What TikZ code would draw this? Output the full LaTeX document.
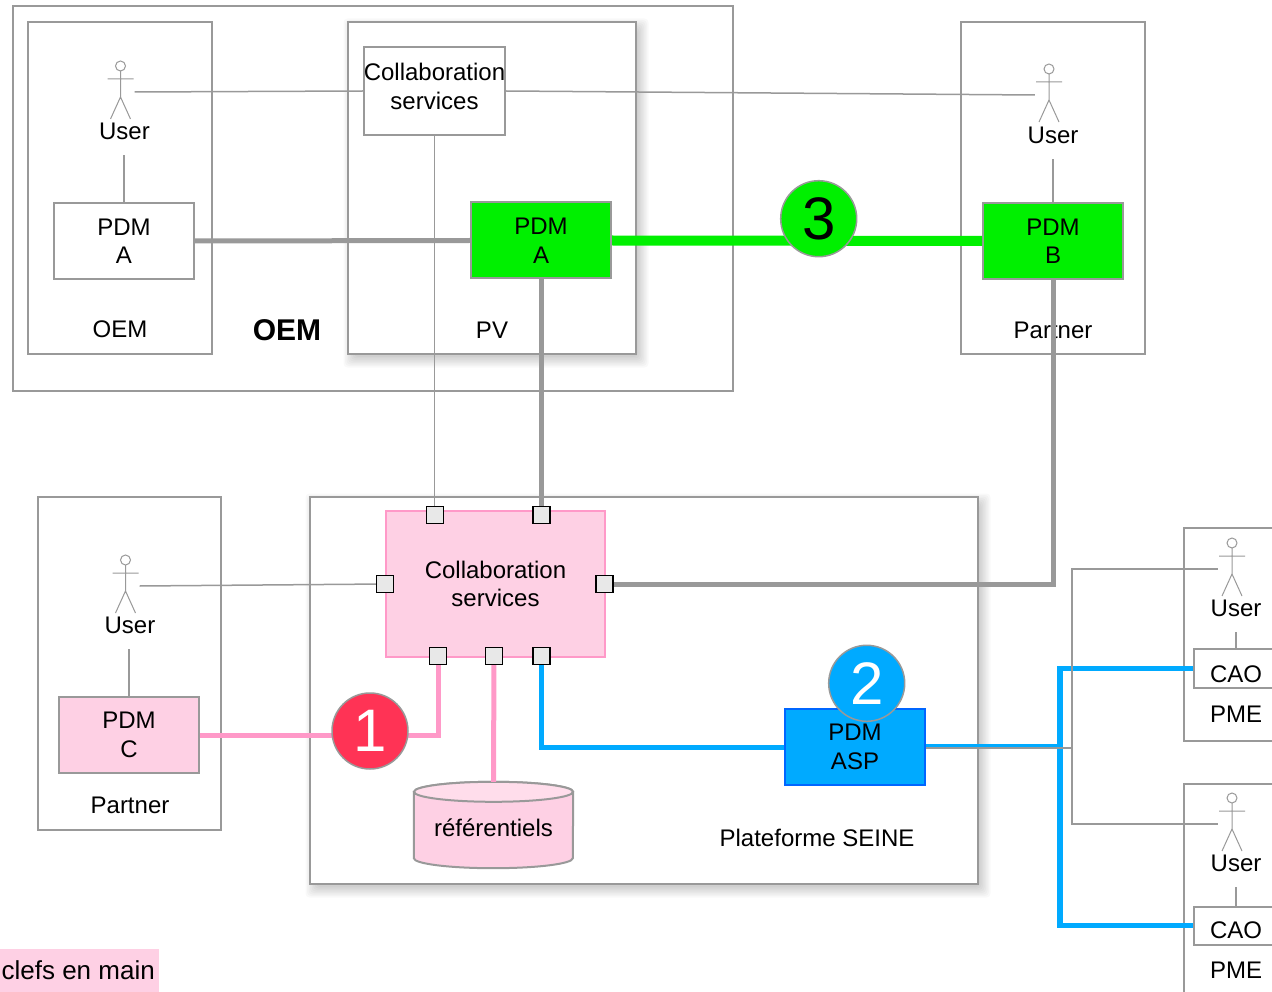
\documentclass[tikz,border=0pt]{standalone}
\usepackage{fontspec}
\setmainfont{Liberation Sans}
\usetikzlibrary{calc}
\definecolor{gline}{HTML}{999999}
\definecolor{pdmgreen}{HTML}{00F000}
\definecolor{pinkfill}{HTML}{FED0E4}
\definecolor{pinktop}{HTML}{FFDDEB}
\definecolor{pinkline}{HTML}{FF99C8}
\definecolor{redc}{HTML}{FF3355}
\definecolor{bluef}{HTML}{00AAFF}
\definecolor{blueb}{HTML}{0066FF}
\definecolor{portfill}{HTML}{E8E8E8}
\pgfdeclarelayer{bg}
\pgfsetlayers{bg,main}
\tikzset{
  txt/.style={font=\fontsize{24}{28.5}\selectfont, align=center, inner sep=0},
  fr/.style={draw=gline, line width=2, inner sep=0},
  pbox/.style={txt, draw=gline, line width=2, minimum width=140, minimum height=76},
  portsq/.style={draw=black, fill=portfill, line width=1.2, minimum size=17, inner sep=0},
  cthin/.style={draw=gline, line width=1.5},
  cthick/.style={draw=gline, line width=5},
  cgreen/.style={draw=pdmgreen, line width=10},
  cpink/.style={draw=pinkline, line width=5},
  cblue/.style={draw=bluef, line width=5},
  num/.style={circle, draw=gline, line width=1.5, minimum size=76, inner sep=0, font=\fontsize{60}{60}\selectfont},
  userlbl/.style={txt, minimum height=48},
  actorbox/.style={minimum width=28, minimum height=58, inner sep=0},
  stick/.pic={
    \draw[gline, line width=1] (0,-26) circle[radius=5pt];
    \draw[gline, line width=1] (0,-21) -- (0,5) (-13,-13) -- (13,-13) (-10,27) -- (0,5) -- (10,27);
  }
}
\begin{document}
\begin{tikzpicture}[x=1pt,y=-1pt]
\useasboundingbox (0,0) rectangle (1272,992);
\clip (0,0) rectangle (1272,992);

% frames
\node[fr, line width=1.5, minimum width=720, minimum height=385] (oemout) at (373,198.5) {};
\node[fr, minimum width=184, minimum height=332] (oembox) at (120,188) {};
\node[fr, fill=white, minimum width=288, minimum height=332] (pvbox) at (492,188) {};
\node[fr, minimum width=184, minimum height=332] (pbbox) at (1053,188) {};
\node[fr, minimum width=183, minimum height=333] (pcbox) at (129.5,663.5) {};
\node[fr, fill=white, minimum width=668, minimum height=387] (seine) at (644,690.5) {};
\node[fr, anchor=north west, minimum width=110, minimum height=213] (pme1) at (1183,527) {};
\node[fr, anchor=north west, minimum width=110, minimum height=230] (pme2) at (1183,783) {};

\begin{pgfonlayer}{bg}
  \fill[white] (0,0) rectangle (1272,992);
  \foreach \n in {pvbox,seine}{
    \foreach \r in {-3,-1.5,0,1.5,3,4.5,6,7.5}{
      \fill[black, opacity=0.022, rounded corners=4pt] ($(\n.north west)+(4-\r,5-\r)$) rectangle ($(\n.south east)+(4+\r,5+\r)$);
    }
  }
\end{pgfonlayer}

% frame labels
\node[txt] (lOEM) at (120,329) {OEM};
\node[txt, font=\bfseries\fontsize{30}{30}\selectfont] (lOEMb) at (287,330) {OEM};
\node[txt] (lPV) at (492,330) {PV};
\node[txt] (lPB) at (1053,330) {Partner};
\node[txt] (lPC) at (130,805) {Partner};
\node[txt] (lSeine) at (817,838) {Plateforme SEINE};
\node[txt] (lPME1) at (1236,714) {PME};
\node[txt] (lPME2) at (1236,970) {PME};

% boxes
\node[pbox, fill=white] (pdmA) at (124,241) {PDM\\A};
\node[pbox, fill=pdmgreen] (pdmAg) at (541,240.5) {PDM\\A};
\node[pbox, fill=pdmgreen] (pdmB) at (1053,241) {PDM\\B};
\node[pbox, fill=pinkfill] (pdmC) at (129,735) {PDM\\C};
\node[pbox, fill=bluef, draw=blueb] (asp) at (855,747) {PDM\\ASP};
\node[pbox, fill=white, minimum width=141, minimum height=88] (cs1) at (434.5,91) {};
\node[txt] (tcs1) at (434.5,86.5) {Collaboration\\services};
\node[pbox, fill=pinkfill, draw=pinkline, minimum width=219, minimum height=146] (cs2) at (495.5,584) {Collaboration\\services};
\node[pbox, fill=white, minimum width=84, minimum height=39] (cao1) at (1236,668.5) {};
\node[txt] (tcao1) at (1236,674) {CAO};
\node[pbox, fill=white, minimum width=84, minimum height=38] (cao2) at (1236,925.5) {};
\node[txt] (tcao2) at (1236,930) {CAO};

% database
\node[minimum width=159, minimum height=86, inner sep=0] (db) at (493.5,825) {};
\path[fill=pinkfill, draw=gline, line width=2] ($(db.north west)+(0,10)$) -- ($(db.south west)+(0,-10)$)
  arc[start angle=180, end angle=360, x radius=79.5pt, y radius=10pt]
  -- ($(db.north east)+(0,10)$)
  arc[start angle=0, end angle=180, x radius=79.5pt, y radius=10pt] -- cycle;
\draw[fill=pinktop, draw=gline, line width=2] ($(db.north)+(0,10)$) ellipse[x radius=79.5pt, y radius=10pt];
\node[txt] (dbt) at (493.5,828) {référentiels};

% users
\node[actorbox] (uA) at (120.5,92) {}; \pic at (uA) {stick};
\node[actorbox] (uB) at (1049,95) {}; \pic at (uB) {stick};
\node[actorbox] (uC) at (125.5,586) {}; \pic at (uC) {stick};
\node[actorbox] (uP1) at (1232,569) {}; \pic at (uP1) {stick};
\node[actorbox] (uP2) at (1232,824) {}; \pic at (uP2) {stick};
\node[userlbl] (lUA) at (124.5,131) {User};
\node[userlbl] (lUB) at (1053,135) {User};
\node[userlbl] (lUC) at (130,625) {User};
\node[userlbl] (lUP1) at (1236,608) {User};
\node[userlbl] (lUP2) at (1236,863) {User};

% port positions
\coordinate (qT1) at (435,515);
\coordinate (qT2) at (541.5,515);
\coordinate (qL) at (385,584);
\coordinate (qR) at (604.5,584);
\coordinate (qB1) at (438,656);
\coordinate (qB2) at (494,656);
\coordinate (qB3) at (541.5,656);

% connectors
\draw[cthin] (uA.east) -- (cs1.west);
\draw[cthin] (cs1.east) -- (uB.west);
\draw[cthin] (pdmA.north) -- (pdmA.north |- lUA.south);
\draw[cthin] (pdmB.north) -- (pdmB.north |- lUB.south);
\draw[cthin] (pdmC.north) -- (pdmC.north |- lUC.south);
\draw[cthin] (cao1.north) -- (cao1.north |- lUP1.south);
\draw[cthin] (cao2.north) -- (cao2.north |- lUP2.south);
\draw[cthin] (cs1.south) -- (cs1.south |- qT1);
\draw[cthick] (pdmA.east) -- (pdmAg.west);
\draw[cthick] (pdmAg.south) -- (pdmAg.south |- qT2);
\draw[cgreen] (pdmAg.east) -- (pdmB.west);
\draw[cthick] (pdmB.south) |- (qR);
\draw[cthin] (uC.east) -- (qL);
\draw[cpink] (pdmC.east) -| (qB1);
\draw[cpink] (qB2) -- (db.north);
\draw[cblue] (qB3) |- (asp.west);
\coordinate (bj) at (1060,745);
\coordinate (gj) at (1072,748);
\draw[cblue, line width=3] (asp.east |- bj) -- (bj);
\draw[cblue, line width=5.5] (cao1.west) -| (bj) |- (cao2.west);
\draw[cthin] (asp.east |- gj) -- (gj);
\draw[cthin] (uP1.west) -| (gj) |- (uP2.west);

% ports
\node[portsq] (pT1) at (qT1) {};
\node[portsq] (pT2) at (qT2) {};
\node[portsq] (pL) at (qL) {};
\node[portsq] (pR) at (qR) {};
\node[portsq] (pB1) at (qB1) {};
\node[portsq] (pB2) at (qB2) {};
\node[portsq] (pB3) at (qB3) {};

% numbered circles
\node[num, fill=pdmgreen] (c3) at (818.7,218.7) {3};
\node[num, fill=redc, text=white] (c1) at (370,731) {1};
\node[num, fill=bluef, text=white] (c2) at (866.7,683.3) {2};

% legend
\node[fill=pinkfill, inner xsep=4, inner ysep=0, minimum height=43, anchor=east, font=\fontsize{26}{26}\selectfont] (clefs) at (159,970.5) {clefs en main};
\end{tikzpicture}
\end{document}
